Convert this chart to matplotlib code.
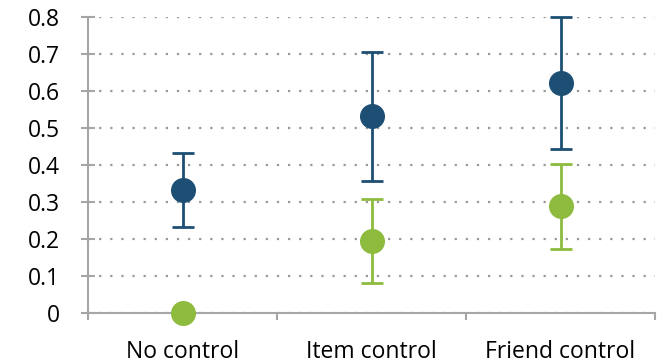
import numpy as np
import matplotlib.pyplot as plt

conditions = ["No control", "Item control", "Friend control"]
blue_mean = np.array([0.332, 0.532, 0.622])
blue_low = np.array([0.232, 0.357, 0.443])
blue_high = np.array([0.432, 0.705, 0.800])
green_mean = np.array([0.0, 0.195, 0.289])
green_low = np.array([0.0, 0.081, 0.173])
green_high = np.array([0.0, 0.308, 0.403])

plt.rcParams["font.family"] = ["Open Sans", "DejaVu Sans"]

fig = plt.figure(figsize=(6.67, 3.62), dpi=100)
ax = fig.add_axes([0.132, 0.135, 0.85, 0.818])

x = np.arange(len(conditions)) + 0.5
ax.errorbar(x, green_mean, yerr=[green_mean - green_low, green_high - green_mean],
            fmt="o", color="#8DBB3E", ecolor="#8DBB3E", markersize=17,
            elinewidth=2, capsize=8, capthick=2, zorder=3, clip_on=False)
ax.errorbar(x, blue_mean, yerr=[blue_mean - blue_low, blue_high - blue_mean],
            fmt="o", color="#1D4E74", ecolor="#1D4E74", markersize=17,
            elinewidth=2, capsize=8, capthick=2, zorder=4, clip_on=False)

ax.set_xlim(0, 3)
ax.set_ylim(0, 0.8)
ax.set_yticks(np.arange(0, 0.81, 0.1))
ax.set_yticklabels(["0"] + [f"{v:.1f}" for v in np.arange(0.1, 0.81, 0.1)])
ax.set_xticks(x)
ax.set_xticklabels(conditions)
ax.set_xticks([0, 1, 2, 3], minor=True)

ax.yaxis.grid(True, linestyle=(0, (1, 4)), color="#999999", linewidth=1.6)
ax.set_axisbelow(True)

for side in ["top", "right"]:
    ax.spines[side].set_visible(False)
for side in ["left", "bottom"]:
    ax.spines[side].set_color("#A6A6A6")
    ax.spines[side].set_linewidth(1.5)

ax.tick_params(axis="y", which="major", direction="inout", length=10,
               width=1.5, color="#A6A6A6", labelsize=16.5, pad=15)
ax.tick_params(axis="x", which="major", length=0, labelsize=16.5, pad=19)
ax.tick_params(axis="x", which="minor", direction="out", length=5,
               width=1.5, color="#A6A6A6")

plt.savefig("out.png", dpi=100)
